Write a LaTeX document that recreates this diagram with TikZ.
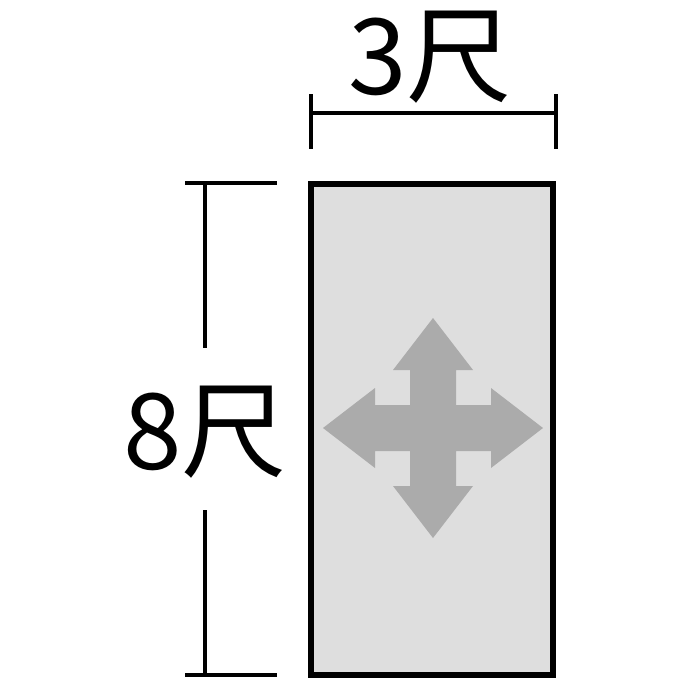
\documentclass[tikz,border=0pt]{standalone}
\usepackage{fontspec}
\setmainfont{Noto Sans CJK JP}
\definecolor{panelgray}{HTML}{DEDEDE}
\definecolor{arrowgray}{HTML}{ABABAB}
\tikzset{
  dimline/.style={black,line width=2.8pt},
  panel/.style={draw=black,fill=panelgray,line width=3.6pt},
  dimlabel/.style={inner sep=0pt,font=\fontsize{60}{60}\selectfont}
}
\begin{document}
\begin{tikzpicture}[x=0.02cm,y=-0.02cm]
\useasboundingbox (0,0) rectangle (700,700);
%					Panneau :
\draw[panel] (311,184) rectangle (553,675);
%					Flèche en croix :
\fill[arrowgray] (433,318) -- (473,370) -- (456,370) -- (456,405) -- (491,405) -- (491,388)
  -- (543,428) -- (491,468) -- (491,451) -- (456,451) -- (456,486) -- (473,486)
  -- (433,538) -- (393,486) -- (410,486) -- (410,451) -- (375,451) -- (375,468)
  -- (323,428) -- (375,388) -- (375,405) -- (410,405) -- (410,370) -- (393,370) -- cycle;
%					Cote horizontale :
\coordinate (wl) at (311,113);
\coordinate (wr) at (556,113);
\draw[dimline] (wl) -- (wr);
\draw[dimline] ([yshift=19*0.02cm]wl) -- ([yshift=-36*0.02cm]wl);
\draw[dimline] ([yshift=19*0.02cm]wr) -- ([yshift=-36*0.02cm]wr);
\node[dimlabel] (wlab) at (430,57) {3尺};
%					Cote verticale :
\coordinate (ht) at (205,183);
\coordinate (hb) at (205,675);
\coordinate (hgt) at (205,348);
\coordinate (hgb) at (205,510);
\draw[dimline] (ht) -- (hgt);
\draw[dimline] (hgb) -- (hb);
\draw[dimline] (185,183) -- (277,183);
\draw[dimline] (185,675) -- (277,675);
\node[dimlabel] (hlab) at (205,432) {8尺};
\end{tikzpicture}
\end{document}
